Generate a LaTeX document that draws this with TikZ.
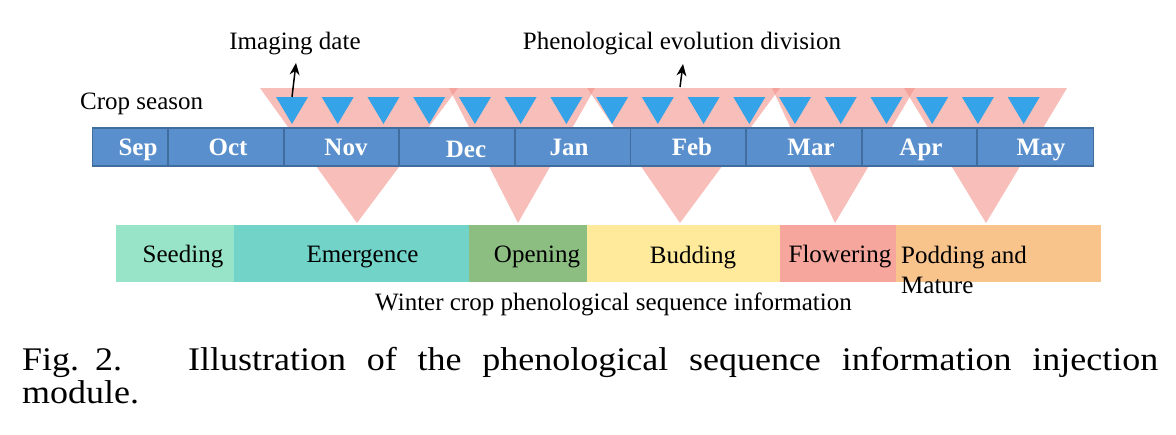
\documentclass[tikz,border=0pt]{standalone}
\usepackage{fontspec}
\setmainfont{Liberation Serif}
\newfontfamily\capfont[FakeStretch=1.09]{Liberation Serif}
\usetikzlibrary{arrows.meta}
\definecolor{barfill}{RGB}{89,143,204}
\definecolor{barline}{RGB}{64,108,158}
\definecolor{bluec}{RGB}{53,163,232}
\definecolor{pinkc}{RGB}{243,147,138}
\definecolor{cseed}{RGB}{151,228,201}
\definecolor{cemer}{RGB}{114,211,201}
\definecolor{copen}{RGB}{140,190,130}
\definecolor{cbud}{RGB}{254,234,154}
\definecolor{cflow}{RGB}{246,166,157}
\definecolor{cpod}{RGB}{249,196,140}
\begin{document}
\begin{tikzpicture}[x=1pt,y=-1pt,
  lbl/.style={inner sep=0pt, anchor=base, font=\fontsize{25}{30}\selectfont},
  lblw/.style={inner sep=0pt, anchor=base west, font=\fontsize{25}{30}\selectfont},
  mtext/.style={inner sep=0pt, anchor=base, text=white, font=\fontsize{25}{30}\selectfont\bfseries},
  monthbox/.style={draw=barline, line width=1.8pt, fill=barfill, inner sep=0pt, minimum height=38pt},
  phasebox/.style={inner sep=0pt, minimum height=57pt},
  pinktri/.style={fill=pinkc, fill opacity=0.6},
  bluetri/.style={fill=bluec},
  captext/.style={inner sep=0pt, anchor=base west, font=\capfont\fontsize{33}{32}\selectfont},
  pointer/.style={-{Stealth[length=12pt,width=10pt]}, line width=1.5pt},
]
\useasboundingbox (0,0) rectangle (1176,434);

% pink division triangles (behind the month bar)
\fill[pinktri] (260,88) -- (458,88) -- (357,223) -- cycle;
\fill[pinktri] (449,88) -- (595,88) -- (518,223) -- cycle;
\fill[pinktri] (587,88) -- (780,88) -- (680,223) -- cycle;
\fill[pinktri] (772,88) -- (915,88) -- (835,223) -- cycle;
\fill[pinktri] (904,88) -- (1067,88) -- (986,223) -- cycle;

% month bar
\node[monthbox, minimum width=75.5pt] (sep) at (130.25,147) {};
\node[monthbox, minimum width=116pt] (oct) at (226,147) {};
\node[monthbox, minimum width=115pt] (nov) at (341.5,147) {};
\node[monthbox, minimum width=116pt] (dec) at (457,147) {};
\node[monthbox, minimum width=115.5pt] (jan) at (572.75,147) {};
\node[monthbox, minimum width=115.5pt] (feb) at (688.25,147) {};
\node[monthbox, minimum width=116pt] (mar) at (804,147) {};
\node[monthbox, minimum width=115pt] (apr) at (919.5,147) {};
\node[monthbox, minimum width=116.5pt] (may) at (1035.25,147) {};

\node[mtext] (tsep) at (138,155.5) {Sep};
\node[mtext] (toct) at (228,155) {Oct};
\node[mtext] (tnov) at (346,155.5) {Nov};
\node[mtext] (tdec) at (466,157) {Dec};
\node[mtext] (tjan) at (569,155) {Jan};
\node[mtext] (tfeb) at (692,155.5) {Feb};
\node[mtext] (tmar) at (811,155.5) {Mar};
\node[mtext] (tapr) at (921,155.5) {Apr};
\node[mtext] (tmay) at (1041,155.5) {May};

% imaging date triangles
\foreach \i in {0,...,16}{
  \pgfmathsetmacro{\cx}{292+45.73*\i}
  \fill[bluetri] (\cx-16,97) -- (\cx+16,97) -- (\cx,124) -- cycle;
}
\coordinate (img) at (292,97);
\coordinate (div) at (680,87);

% top labels and pointers
\node[lbl] (imgtxt) at (295,49) {Imaging date};
\node[lbl] (divtxt) at (682,49) {Phenological evolution division};
\node[lblw] (season) at (80,109) {Crop season};
\coordinate (imgtip) at (296,63);
\coordinate (divtip) at (683,64);
\draw[pointer] (img) -- (imgtip);
\draw[pointer] (div) -- (divtip);

% phenological phases
\node[phasebox, fill=cseed, minimum width=117.5pt] (seed) at (174.75,253.5) {};
\node[phasebox, fill=cemer, minimum width=235.5pt] (emer) at (351.25,253.5) {};
\node[phasebox, fill=copen, minimum width=118pt] (open) at (528,253.5) {};
\node[phasebox, fill=cbud, minimum width=192.5pt] (bud) at (683.25,253.5) {};
\node[phasebox, fill=cflow, minimum width=116pt] (flow) at (837.5,253.5) {};
\node[phasebox, fill=cpod, minimum width=205.5pt] (pod) at (998.25,253.5) {};

\node[lbl] (tseed) at (183,262.5) {Seeding};
\node[lbl] (temer) at (362.5,262.5) {Emergence};
\node[lbl] (topen) at (537,262.5) {Opening};
\node[lbl] (tbud) at (693,263) {Budding};
\node[lbl] (tflow) at (840,262) {Flowering};
\node[lblw] (tpod1) at (901,263) {Podding and};
\node[lblw] (tpod2) at (901,293) {Mature};
\node[lbl] (winter) at (613.5,310) {Winter crop phenological sequence information};

% figure caption
\node[captext] (fig) at (22,370) {\makebox[100pt][s]{Fig. 2.}};
\node[captext] (capl1) at (188,370) {\makebox[970pt][s]{Illustration of the phenological sequence information injection}};
\node[captext] (capl2) at (22,403) {module.};
\end{tikzpicture}
\end{document}
